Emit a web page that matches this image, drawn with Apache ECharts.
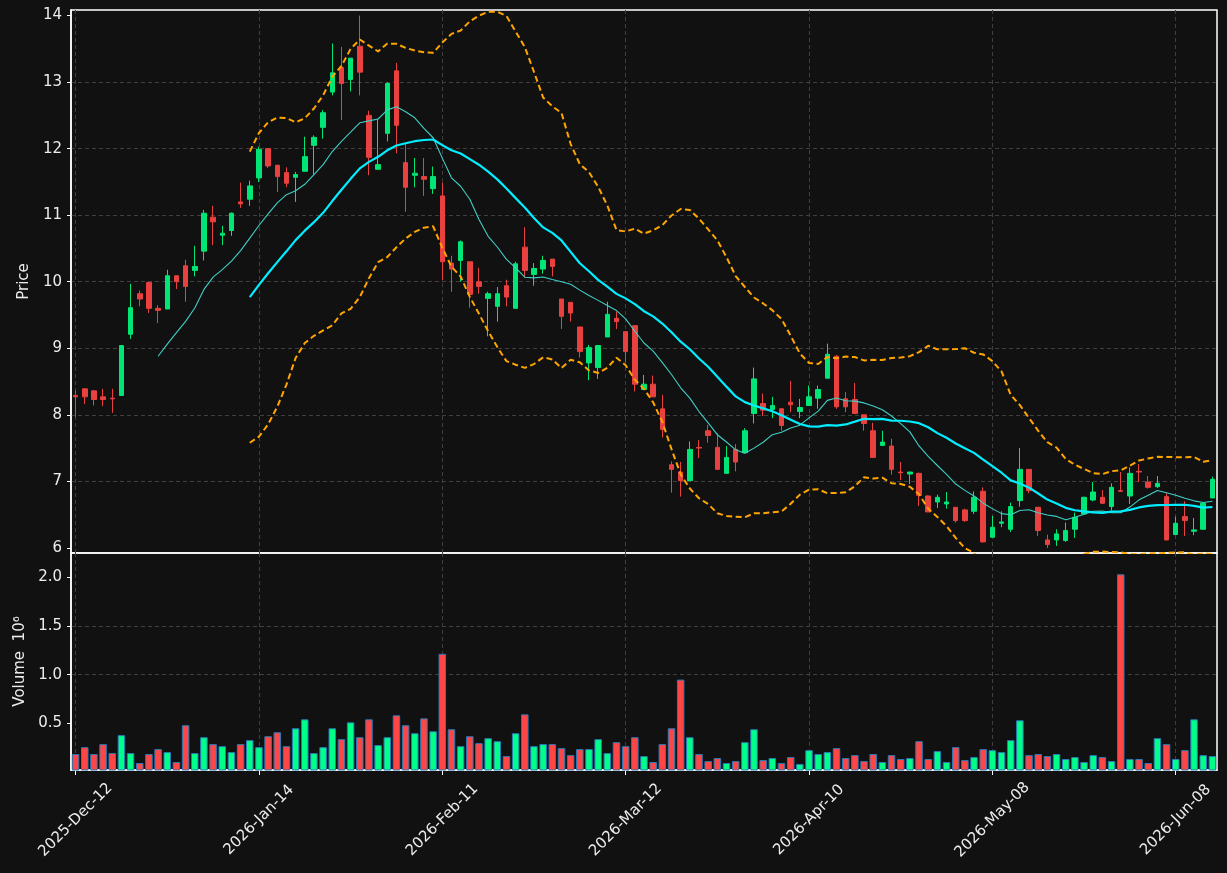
<!DOCTYPE html>
<html><head><meta charset="utf-8">
<script src="https://cdn.jsdelivr.net/npm/echarts@6/dist/echarts.min.js"></script>
<style>html,body{margin:0;padding:0;background:#111111;}#chart{width:1227px;height:873px;}</style>
</head><body><div id="chart"></div>
<script>
// ---- data ----
const opens = [8.29,8.39,8.36,8.27,8.25,8.29,9.21,9.82,9.99,9.60,9.59,10.09,10.24,10.17,10.46,10.97,10.70,10.77,11.20,11.24,
11.56,12.00,11.75,11.64,11.57,11.66,12.05,12.32,12.85,13.22,13.04,13.54,12.50,11.69,12.23,13.17,11.79,11.60,11.58,11.40,
11.29,10.28,10.32,10.30,10.00,9.75,9.63,9.94,9.60,10.52,10.11,10.19,10.34,9.74,9.69,9.32,8.78,8.71,9.17,9.45,
9.25,9.34,8.38,8.46,8.09,7.25,7.14,7.01,7.51,7.76,7.51,7.12,7.48,7.43,8.02,8.17,8.08,8.09,8.19,8.05,
8.14,8.25,8.55,8.88,8.24,8.23,8.00,7.76,7.54,7.53,7.14,7.11,7.12,6.78,6.69,6.66,6.61,6.57,6.55,6.85,
6.16,6.37,6.28,6.71,7.18,6.61,6.12,6.12,6.11,6.28,6.51,6.72,6.76,6.62,6.86,6.78,7.15,6.99,6.92,6.77,
6.20,6.47,6.25,6.28,6.75];
const highs = [8.37,8.40,8.37,8.39,8.39,9.05,9.97,9.87,9.99,9.65,10.18,10.09,10.33,10.54,11.08,11.14,10.84,11.04,11.49,11.52,
12.03,12.00,11.76,11.72,11.65,12.18,12.20,12.58,13.58,13.53,13.36,14.00,12.57,12.45,13.00,13.29,12.07,11.86,11.86,11.73,
11.49,10.39,10.62,10.30,10.21,9.85,9.92,10.03,10.30,10.82,10.28,10.39,10.34,9.74,9.69,9.32,9.05,9.05,9.70,9.55,
9.25,9.34,8.60,8.59,8.30,7.30,7.29,7.60,7.62,7.85,7.72,7.53,7.56,7.80,8.71,8.32,8.27,8.10,8.51,8.24,
8.44,8.44,9.07,8.90,8.34,8.48,8.00,7.88,7.76,7.64,7.29,7.14,7.13,6.79,6.80,6.84,6.61,6.59,6.85,6.91,
6.48,6.55,6.68,7.50,7.18,6.61,6.20,6.28,6.38,6.53,6.77,6.99,6.87,6.97,7.14,7.21,7.26,7.08,7.08,6.82,
6.47,6.70,6.45,6.68,7.07];
const lows = [7.97,8.16,8.14,8.13,8.03,8.29,9.14,9.63,9.53,9.38,9.59,9.89,9.70,10.08,10.32,10.55,10.55,10.69,11.11,11.14,
11.50,11.71,11.35,11.42,11.20,11.66,11.61,12.15,12.80,12.43,12.86,12.80,11.60,11.69,12.11,11.93,11.05,11.42,11.29,11.32,
10.02,9.85,10.00,9.61,9.82,9.18,9.40,9.63,9.60,10.06,9.94,10.12,10.08,9.29,9.40,8.86,8.52,8.54,9.17,9.29,
8.79,8.35,8.38,8.27,7.66,6.83,6.77,7.01,7.35,7.58,7.17,7.12,7.15,7.43,7.87,7.98,7.95,7.76,8.04,7.95,
8.14,8.09,8.55,8.09,8.04,8.02,7.76,7.35,7.53,7.10,7.02,6.96,6.63,6.54,6.60,6.59,6.38,6.39,6.51,6.08,
6.16,6.31,6.24,6.62,6.82,6.18,6.00,6.03,6.09,6.15,6.51,6.70,6.66,6.56,6.84,6.66,6.99,6.89,6.90,6.11,
6.20,6.18,6.19,6.28,6.75];
const closes = [8.27,8.27,8.23,8.23,8.24,9.04,9.61,9.74,9.60,9.57,10.09,10.00,9.93,10.23,11.03,10.90,10.73,11.03,11.17,11.44,
11.99,11.74,11.58,11.48,11.61,11.88,12.17,12.54,13.14,12.98,13.36,13.15,11.87,11.76,12.98,12.35,11.42,11.63,11.54,11.58,
10.30,10.19,10.60,9.81,9.93,9.82,9.82,9.77,10.27,10.17,10.20,10.32,10.23,9.48,9.53,8.95,9.01,9.04,9.51,9.40,
8.95,8.46,8.46,8.27,7.78,7.18,7.01,7.48,7.50,7.69,7.18,7.36,7.29,7.76,8.54,8.07,8.14,7.84,8.15,8.11,
8.27,8.38,8.91,8.12,8.12,8.02,7.87,7.36,7.59,7.18,7.13,7.14,6.79,6.54,6.76,6.69,6.41,6.41,6.76,6.09,
6.31,6.39,6.62,7.18,6.86,6.26,6.05,6.21,6.26,6.46,6.76,6.84,6.67,6.91,6.85,7.12,7.14,6.91,6.97,6.12,
6.37,6.41,6.27,6.67,7.03];
const volumes = [0.184,0.255,0.184,0.286,0.194,0.378,0.194,0.092,0.184,0.235,0.204,0.102,0.480,0.194,0.357,0.286,0.265,0.204,0.286,0.327,
0.255,0.367,0.408,0.265,0.449,0.541,0.194,0.255,0.449,0.337,0.510,0.357,0.541,0.276,0.357,0.582,0.480,0.398,0.551,0.418,
1.214,0.439,0.265,0.367,0.296,0.347,0.316,0.163,0.398,0.592,0.265,0.286,0.286,0.245,0.173,0.235,0.235,0.337,0.194,0.306,
0.265,0.357,0.163,0.102,0.286,0.449,0.949,0.357,0.184,0.112,0.143,0.092,0.112,0.306,0.439,0.122,0.143,0.092,0.153,0.082,
0.224,0.184,0.204,0.245,0.143,0.173,0.112,0.184,0.102,0.173,0.133,0.143,0.316,0.133,0.214,0.102,0.255,0.122,0.153,0.235,
0.224,0.204,0.327,0.531,0.173,0.184,0.163,0.184,0.133,0.153,0.102,0.173,0.153,0.112,2.031,0.133,0.133,0.092,0.347,0.286,
0.133,0.224,0.541,0.173,0.163];
const tickLabels = ['2025-Dec-12','2026-Jan-14','2026-Feb-11','2026-Mar-12','2026-Apr-10','2026-May-08','2026-Jun-08'];
const tickStep = 20;
const priceTicks = [6,7,8,9,10,11,12,13,14];
const volumeTicks = [0.5,1.0,1.5,2.0];
const maShort = 10, maLong = 20, bbPeriod = 20, bbK = 2;

// ---- derived indicators (computed from closes) ----
function sma(arr, n) {
  return arr.map((_, i) => {
    if (i < n - 1) return null;
    let s = 0; for (let j = i - n + 1; j <= i; j++) s += arr[j];
    return s / n;
  });
}
function bands(arr, n, k) {
  const up = [], lo = [];
  arr.forEach((_, i) => {
    if (i < n - 1) { up.push(null); lo.push(null); return; }
    let s = 0; for (let j = i - n + 1; j <= i; j++) s += arr[j];
    const m = s / n; let v = 0;
    for (let j = i - n + 1; j <= i; j++) v += (arr[j] - m) * (arr[j] - m);
    const sd = Math.sqrt(v / (n - 1));
    up.push(m + k * sd); lo.push(m - k * sd);
  });
  return [up, lo];
}
const categories = closes.map((_, i) => String(i));
const candleData = closes.map((c, i) => [opens[i], c, lows[i], highs[i]]);
const ma10 = sma(closes, maShort);
const ma20 = sma(closes, maLong);
const [bbUp, bbLo] = bands(closes, bbPeriod, bbK);
const UP = '#00e676', DOWN = '#e8413f', VUP = '#00ff88', VDOWN = '#ff4646';
const volData = volumes.map((v, i) => ({ value: v, itemStyle: { color: closes[i] >= opens[i] ? VUP : VDOWN } }));

const TXT = '#ececec', FONT = 'DejaVu Sans', GRIDC = '#3f3f3f', FS = 15;
const showTick = (idx) => idx % tickStep === 0;

const chart = echarts.init(document.getElementById('chart'), null, { renderer: 'canvas' });
chart.setOption({
  backgroundColor: '#111111',
  animation: false,
  textStyle: { fontFamily: FONT },
  grid: [
    { left: 71, top: 10, width: 1146, height: 543, show: true, borderColor: '#ffffff', borderWidth: 1.5, backgroundColor: 'transparent' },
    { left: 71, top: 553, width: 1146, height: 217, show: true, borderColor: '#ffffff', borderWidth: 1.5, backgroundColor: 'transparent' }
  ],
  xAxis: [
    { type: 'category', gridIndex: 0, data: categories, boundaryGap: true,
      axisLine: { show: false }, axisTick: { show: false }, axisLabel: { show: false },
      splitLine: { show: true, interval: showTick, alignWithLabel: true, lineStyle: { color: GRIDC, type: [4, 3], width: 1 } } },
    { type: 'category', gridIndex: 1, data: categories, boundaryGap: true,
      axisLine: { show: true, lineStyle: { color: '#ffffff', width: 1.5 } },
      axisTick: { show: true, interval: showTick, alignWithLabel: true, length: 5, lineStyle: { color: '#ffffff', width: 1 } },
      axisLabel: { show: true, interval: showTick, rotate: 45, align: 'center', verticalAlign: 'middle', margin: 50,
        color: TXT, fontSize: FS, fontFamily: FONT,
        formatter: (v, idx) => tickLabels[Math.round(idx / tickStep)] || '' },
      splitLine: { show: true, interval: showTick, alignWithLabel: true, lineStyle: { color: GRIDC, type: [4, 3], width: 1 } } }
  ],
  yAxis: [
    { type: 'value', gridIndex: 0, min: 5.923, max: 14.084, splitNumber: 8, position: 'left',
      name: 'Price', nameLocation: 'middle', nameGap: 33, nameRotate: 90,
      nameTextStyle: { color: TXT, fontSize: FS, fontFamily: FONT },
      axisLine: { show: true, lineStyle: { color: '#ffffff', width: 1.5 } },
      axisTick: { show: true, length: 4, customValues: priceTicks, lineStyle: { color: '#ffffff', width: 1 } },
      axisLabel: { customValues: priceTicks, color: TXT, fontSize: FS, fontFamily: FONT, margin: 9, formatter: v => String(v) },
      splitLine: { show: true, showMinLine: false, showMaxLine: false, lineStyle: { color: GRIDC, type: [4, 3], width: 1 } } },
    { type: 'value', gridIndex: 1, min: 0.02, max: 2.25, splitNumber: 4, position: 'left',
      name: 'Volume  10\u2076', nameLocation: 'middle', nameGap: 41, nameRotate: 90,
      nameTextStyle: { color: TXT, fontSize: FS, fontFamily: FONT },
      axisLine: { show: true, lineStyle: { color: '#ffffff', width: 1.5 } },
      axisTick: { show: true, length: 4, customValues: volumeTicks, lineStyle: { color: '#ffffff', width: 1 } },
      axisLabel: { customValues: volumeTicks, color: TXT, fontSize: FS, fontFamily: FONT, margin: 9, formatter: v => v.toFixed(1) },
      splitLine: { show: true, showMinLine: false, showMaxLine: false, lineStyle: { color: GRIDC, type: [4, 3], width: 1 } } }
  ],
  series: [
    { type: 'candlestick', xAxisIndex: 0, yAxisIndex: 0, data: candleData, barWidth: 5, z: 2,
      itemStyle: { color: UP, color0: DOWN, borderColor: UP, borderColor0: DOWN, borderWidth: 1 } },
    { type: 'line', xAxisIndex: 0, yAxisIndex: 0, data: ma10, showSymbol: false, z: 3,
      lineStyle: { color: '#3fcfc6', width: 1.1 } },
    { type: 'line', xAxisIndex: 0, yAxisIndex: 0, data: ma20, showSymbol: false, z: 3,
      lineStyle: { color: '#00eeff', width: 2.2 } },
    { type: 'line', xAxisIndex: 0, yAxisIndex: 0, data: bbUp, showSymbol: false, z: 3,
      lineStyle: { color: '#ffa500', width: 2, type: [6, 3.5] } },
    { type: 'line', xAxisIndex: 0, yAxisIndex: 0, data: bbLo, showSymbol: false, z: 3,
      lineStyle: { color: '#ffa500', width: 2, type: [6, 3.5] } },
    { type: 'bar', xAxisIndex: 1, yAxisIndex: 1, data: volData, barWidth: 7.5, z: 2,
      itemStyle: { borderColor: '#2a7ab8', borderWidth: 1 } }
  ]
});
</script></body></html>
